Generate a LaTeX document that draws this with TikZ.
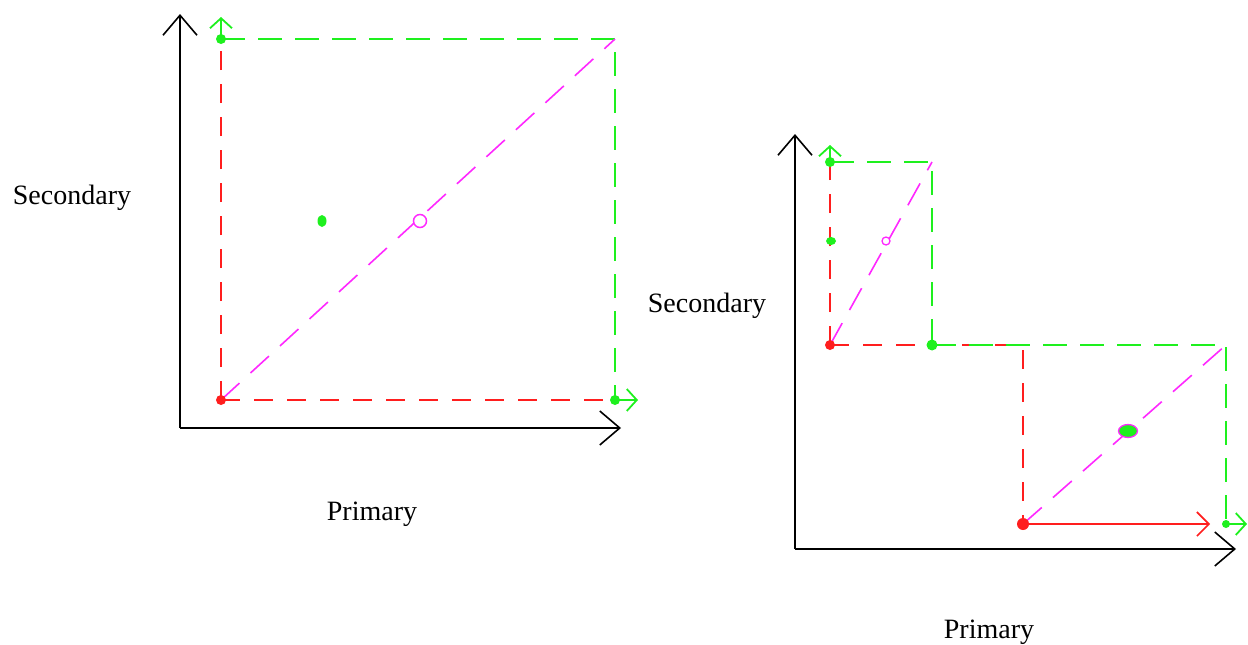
\documentclass[tikz,border=0pt]{standalone}
\usepackage{fontspec}
\setmainfont{Liberation Serif}
\usetikzlibrary{arrows.meta,shapes.geometric}
\definecolor{gr}{RGB}{30,240,30}
\definecolor{rd}{RGB}{255,30,30}
\definecolor{mg}{RGB}{255,40,255}
\tikzset{
  axisline/.style={black, line width=2pt, -{Straight Barb[length=20pt,width=34pt,line width=1.6pt]}},
  reddash/.style={rd, line width=2.3pt, dash pattern=on 19pt off 14pt},
  greendash/.style={gr, line width=2.4pt, dash pattern=on 24pt off 13pt},
  magdash/.style={mg, line width=1.6pt, dash pattern=on 25pt off 15pt},
  garrow/.style={gr, line width=2.4pt, -{Straight Barb[length=10pt,width=22pt,line width=1.8pt]}},
  rarrow/.style={rd, line width=2.2pt, -{Straight Barb[length=12pt,width=24pt,line width=1.6pt]}},
  gdot/.style={fill=gr, draw=none, circle, inner sep=0pt, minimum size=10pt},
  rdot/.style={fill=rd, draw=none, circle, inner sep=0pt, minimum size=10pt},
  lbl/.style={font=\fontsize{28}{32}\selectfont, inner sep=0pt},
}
\begin{document}
\begin{tikzpicture}[x=1pt,y=-1pt]
\useasboundingbox (0,0) rectangle (1248,645);
% ---------- left diagram ----------
\coordinate (LO) at (180,428);
\coordinate (LYt) at (180,14);
\coordinate (LXt) at (621,428);
\coordinate (LR) at (221,400);
\coordinate (LTL) at (221,39);
\coordinate (LTR) at (615,39);
\coordinate (LBR) at (615,400);
\coordinate (LTLa) at (221,17);
\coordinate (LBRa) at (638,400);
\draw[axisline] (LO) -- (LYt);
\draw[axisline] (LO) -- (LXt);
\draw[reddash] (LR) -- (LTL);
\draw[reddash] (LR) -- (LBR);
\draw[greendash] (LTL) -- (LTR) -- (LBR);
\draw[magdash] (LR) -- (LTR);
\draw[garrow] (LTL) -- (LTLa);
\draw[garrow] (LBR) -- (LBRa);
\node[rdot] (lrd) at (LR) {};
\node[gdot] (lg1) at (LTL) {};
\node[gdot] (lg2) at (LBR) {};
\node[fill=gr, draw=none, ellipse, inner sep=0pt, minimum width=9pt, minimum height=12pt] (lg3) at (322,221) {};
\node[draw=mg, line width=1.5pt, circle, inner sep=0pt, minimum size=13pt, fill=white] (lc) at (420,221) {};
\node[lbl] (lsec) at (72,198) {Secondary};
\node[lbl] (lpri) at (372,514) {Primary};
% ---------- right diagram ----------
\coordinate (RO) at (795,549);
\coordinate (RYt) at (795,134);
\coordinate (RXt) at (1236,549);
\coordinate (RR1) at (830,345);
\coordinate (RTL) at (830,162);
\coordinate (RTR) at (932,162);
\coordinate (RMB) at (932,345);
\coordinate (RTLa) at (830,145);
\coordinate (RC) at (1023,345);
\coordinate (RR2) at (1023,524);
\coordinate (RSR) at (1226,345);
\coordinate (RBR) at (1226,524);
\coordinate (RR2a) at (1210,524);
\coordinate (RBRa) at (1247,524);
\draw[axisline] (RO) -- (RYt);
\draw[axisline] (RO) -- (RXt);
\draw[reddash] (RR1) -- (RTL);
\draw[reddash] (RR1) -- (RC) -- (RR2);
\draw[greendash] (RTL) -- (RTR) -- (RMB);
\draw[greendash] (RMB) -- (RSR) -- (RBR);
\draw[magdash] (RR1) -- (RTR);
\draw[magdash] (RR2) -- (RSR);
\draw[garrow] (RTL) -- (RTLa);
\draw[rarrow] (RR2) -- (RR2a);
\draw[garrow] (RBR) -- (RBRa);
\node[rdot] (rrd1) at (RR1) {};
\node[rdot, minimum size=12pt] (rrd2) at (RR2) {};
\node[gdot] (rg1) at (RTL) {};
\node[gdot, minimum size=11pt] (rg2) at (RMB) {};
\node[gdot, minimum size=8pt] (rg3) at (RBR) {};
\node[fill=gr, draw=none, ellipse, inner sep=0pt, minimum width=10pt, minimum height=8pt] (rg4) at (831,241) {};
\node[draw=mg, line width=1.3pt, circle, inner sep=0pt, minimum size=8pt, fill=white] (rc1) at (886,241) {};
\node[draw=mg, line width=1.3pt, fill=gr, ellipse, inner sep=0pt, minimum width=19pt, minimum height=13pt] (rc2) at (1128,431) {};
\node[lbl] (rsec) at (707,306) {Secondary};
\node[lbl] (rpri) at (989,632) {Primary};
\end{tikzpicture}
\end{document}
